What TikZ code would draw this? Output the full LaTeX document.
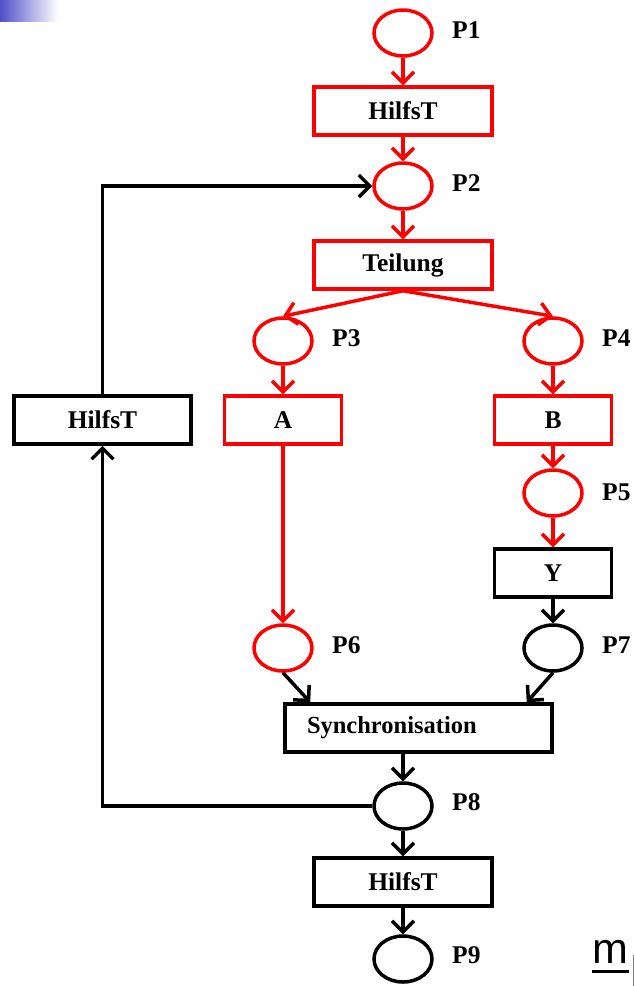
\documentclass[tikz,border=0pt]{standalone}
\usepackage{fontspec}
\setmainfont{Liberation Serif}
\newfontfamily\msans{Liberation Sans}
\usetikzlibrary{shapes.geometric,arrows.meta}
\definecolor{pnred}{RGB}{255,0,0}
\definecolor{barblue}{RGB}{80,80,200}
\begin{document}
\begin{tikzpicture}[x=1pt,y=-1pt,
  place/.style={ellipse,draw,line width=3.5pt,minimum width=58pt,minimum height=46pt,inner sep=0pt},
  trans/.style={rectangle,draw,line width=3.5pt,minimum height=48pt,inner sep=0pt,font=\fontsize{25.5}{30}\selectfont\bfseries},
  lbl/.style={anchor=west,inner sep=0pt,font=\fontsize{25.5}{30}\selectfont\bfseries},
  arr/.style={line width=3.5pt,-{Straight Barb[length=11pt,width=22pt,line width=3.5pt]}},
  redc/.style={draw=pnred,color=pnred}]
\useasboundingbox (0,0) rectangle (634,986);
\shade[left color=barblue,right color=white] (0,0) rectangle (58,21);

% places
\node[place,draw=pnred] (p1) at (403,33) {};
\node[place,draw=pnred] (p2) at (403,186) {};
\node[place,draw=pnred] (p3) at (283,341) {};
\node[place,draw=pnred] (p4) at (553,341) {};
\node[place,draw=pnred] (p5) at (553,493) {};
\node[place,draw=pnred] (p6) at (283,648) {};
\node[place] (p7) at (553,648) {};
\node[place] (p8) at (403,806) {};
\node[place] (p9) at (403,959) {};

% labels
\node[lbl] (l1) at (452,30) {P1};
\node[lbl] (l2) at (452,183) {P2};
\node[lbl] (l3) at (332,338) {P3};
\node[lbl] (l4) at (602,338) {P4};
\node[lbl] (l5) at (602,492) {P5};
\node[lbl] (l6) at (332,645) {P6};
\node[lbl] (l7) at (602,645) {P7};
\node[lbl] (l8) at (452,802) {P8};
\node[lbl] (l9) at (452,955) {P9};

% transitions
\node[trans,draw=pnred,minimum width=178pt] (h1) at (403,111) {HilfsT};
\node[trans,draw=pnred,minimum width=178pt] (teil) at (403,265) {Teilung};
\node[trans,draw=pnred,minimum width=117pt] (ta) at (283,420) {A};
\node[trans,draw=pnred,minimum width=117pt] (tb) at (553,420) {B};
\node[trans,minimum width=177pt] (hl) at (102.5,420) {HilfsT};
\node[trans,minimum width=117pt] (ty) at (553,573) {Y};
\node[trans,minimum width=267pt,text width=223pt,inner xsep=22pt,align=left,font=\fontsize{24.5}{28}\selectfont\bfseries] (sync) at (418.5,728) {Synchronisation};
\node[trans,minimum width=178pt] (h3) at (403,882) {HilfsT};

% red arcs
\draw[arr,redc] (p1) -- (h1);
\draw[arr,redc] (h1) -- (p2);
\draw[arr,redc] (p2) -- (teil);
\draw[arr,redc] (teil.south) -- (p3.north);
\draw[arr,redc] (teil.south) -- (p4.north);
\draw[arr,redc] (p3) -- (ta);
\draw[arr,redc] (p4) -- (tb);
\draw[arr,redc] (ta) -- (p6);
\draw[arr,redc] (tb) -- (p5);
\draw[arr,redc] (p5) -- (ty);

% black arcs
\draw[arr] (ty) -- (p7);
\draw[arr] (p6.south) -- ([xshift=27pt]sync.north west);
\draw[arr] (p7.south) -- ([xshift=-27pt]sync.north east);
\draw[arr] (sync.south -| p8) -- (p8);
\draw[arr] (p8) -- (h3);
\draw[arr] (h3) -- (p9);
\draw[arr] (p8.west) -- (p8.west -| hl.south) -- (hl.south);
\draw[arr] (hl.north) |- (p2.west);

% cut-off text at the bottom right
\node[anchor=base,inner sep=0pt,font=\msans\fontsize{43}{50}\selectfont] (mtext) at (610.5,963) {m};
\draw[line width=3pt] ([yshift=-8pt]mtext.base west) -- ([yshift=-8pt]mtext.base east);
\draw[gray,line width=1pt] (633,955) -- (633,986);
\end{tikzpicture}
\end{document}
